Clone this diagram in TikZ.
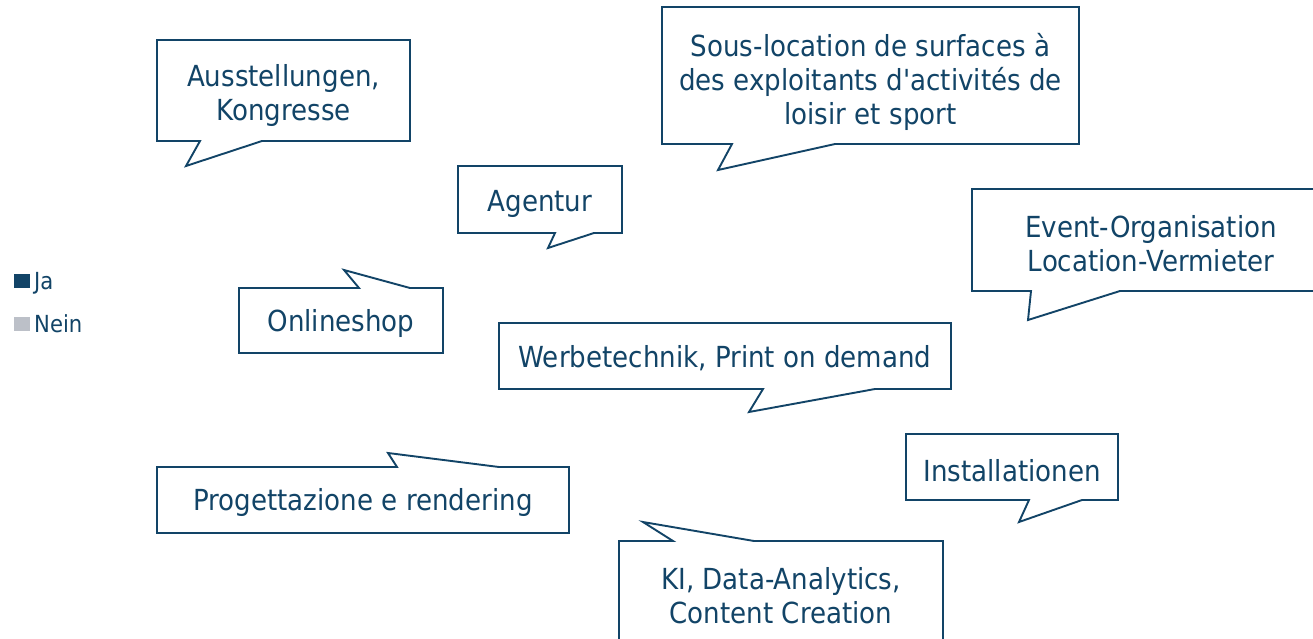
\documentclass[tikz,border=0pt]{standalone}
\usepackage{fontspec}
\setmainfont{DejaVu Sans}[FakeStretch=0.9, Ligatures=TeXOff]
\usepackage{xcolor}
\usepackage{tikz}

\definecolor{bubbleblue}{HTML}{124467}
\definecolor{neingray}{HTML}{BCC0C8}

\tikzset{
    bubble/.style={draw=bubbleblue, line width=1.9pt, fill=white, line join=miter},
    bubbletext/.style={text=bubbleblue, align=center, inner sep=0pt, font=\fontsize{29}{34}\selectfont},
    legendtext/.style={text=bubbleblue, anchor=base west, inner sep=0pt, font=\fontsize{23.5}{26}\selectfont}
}

\begin{document}
\begin{tikzpicture}[x=1pt, y=-1pt]
        \clip (0,0) rectangle (1313,639);
        \fill[white] (0,0) rectangle (1313,639);

        % Legend
        \fill[bubbleblue] (14,274) rectangle (30,288);
        \node[legendtext] (ja) at (34,289) {Ja};
        \fill[neingray] (14,317) rectangle (30,331);
        \node[legendtext] (nein) at (34,332) {Nein};

        % 1. Ausstellungen (tail down left)
        \draw[bubble] (157,40) -- (410,40) -- (410,141) -- (262,141) -- (186,166) -- (200,141) -- (157,141) -- cycle;
        \node[bubbletext] (ausst) at (283.5,95.5) {Ausstellungen,\\Kongresse};

        % 2. Sous-location
        \draw[bubble] (662,7) -- (1079,7) -- (1079,144) -- (835,144) -- (718,170) -- (732,144) -- (662,144) -- cycle;
        \node[bubbletext] (sousloc) at (870.5,81.5) {Sous-location de surfaces à\\des exploitants d'activités de\\loisir et sport};

        % 3. Agentur
        \draw[bubble] (458,166) -- (622,166) -- (622,233) -- (594,233) -- (548,248) -- (555,233) -- (458,233) -- cycle;
        \node[bubbletext] (agentur) at (540,203.5) {Agentur};

        % 4. Onlineshop (tail up)
        \draw[bubble] (239,288) -- (359,288) -- (344,270) -- (410,288) -- (443,288) -- (443,353) -- (239,353) -- cycle;
        \node[bubbletext] (online) at (341,323.5) {Onlineshop};

        % 5. Werbetechnik
        \draw[bubble] (499,323) -- (951,323) -- (951,389) -- (875,389) -- (749,412) -- (763,389) -- (499,389) -- cycle;
        \node[bubbletext] (werbe) at (725,358.5) {Werbetechnik, Print on demand};

        % 6. Event-Organisation (runs off the right edge)
        \draw[bubble] (972,189) -- (1330,189) -- (1330,291) -- (1120,291) -- (1028,320) -- (1031,291) -- (972,291) -- cycle;
        \node[bubbletext] (event) at (1151,243.5) {Event-Organisation\\Location-Vermieter};

        % 7. Installationen
        \draw[bubble] (906,434) -- (1118,434) -- (1118,500) -- (1082,500) -- (1019,522) -- (1029,500) -- (906,500) -- cycle;
        \node[bubbletext] (install) at (1012,470.5) {Installationen};

        % 8. Progettazione (tail up)
        \draw[bubble] (157,467) -- (397,467) -- (388,453) -- (499,467) -- (569,467) -- (569,533) -- (157,533) -- cycle;
        \node[bubbletext] (proget) at (363,502.5) {Progettazione e rendering};

        % 9. KI (tail up, runs off the bottom edge)
        \draw[bubble] (619,541) -- (673,541) -- (643,522) -- (754,541) -- (943,541) -- (943,660) -- (619,660) -- cycle;
        \node[bubbletext] (ki) at (781,595.5) {KI, Data-Analytics,\\Content Creation};

    \end{tikzpicture}
\end{document}
